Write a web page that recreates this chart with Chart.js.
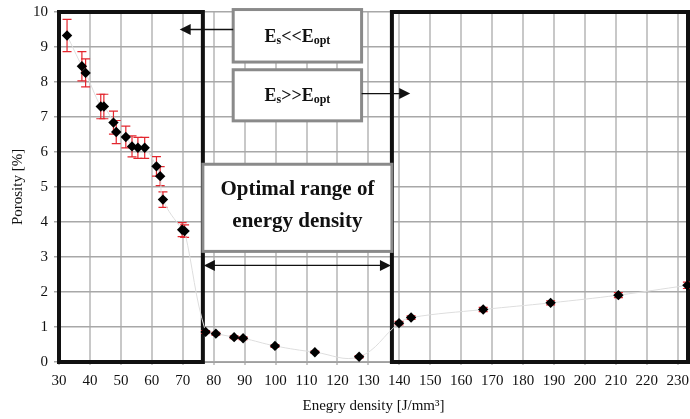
<!DOCTYPE html>
<html><head><meta charset="utf-8">
<script src="https://cdn.jsdelivr.net/npm/chart.js@4"></script>
<style>html,body{margin:0;padding:0;background:#fff}#wrap{width:690px;height:419px}</style>
</head><body><div id="wrap"><canvas id="c" width="690" height="419"></canvas></div>
<script>
// ---- data ----
const energyDensity = [32.6, 37.4, 38.6, 43.5, 44.5, 47.6, 48.5, 51.6, 53.6, 55.5, 57.7, 61.5, 62.7, 63.6, 69.8, 70.6, 77.4, 80.7, 86.6, 89.5, 99.8, 112.7, 127.0, 139.9, 143.8, 167.1, 188.9, 210.8, 233.1];
const porosity      = [9.33, 8.45, 8.26, 7.30, 7.30, 6.84, 6.57, 6.43, 6.16, 6.12, 6.12, 5.59, 5.31, 4.64, 3.78, 3.74, 0.86, 0.81, 0.71, 0.68, 0.46, 0.28, 0.15, 1.11, 1.27, 1.50, 1.69, 1.91, 2.19];
const porosityError = [0.46, 0.42, 0.40, 0.35, 0.35, 0.33, 0.33, 0.31, 0.30, 0.30, 0.30, 0.28, 0.27, 0.22, 0.20, 0.18, 0.04, 0.04, 0.04, 0.04, 0.04, 0.03, 0.03, 0.05, 0.05, 0.06, 0.06, 0.07, 0.09];
const xTickValues = [30, 40, 50, 60, 70, 80, 90, 100, 110, 120, 130, 140, 150, 160, 170, 180, 190, 200, 210, 220, 230];
const yTickValues = [0, 1, 2, 3, 4, 5, 6, 7, 8, 9, 10];
const lowRange = [30, 76.5];
const highRange = [137.6, 233.3];
const optimalRange = [76.5, 137.6];
const xTitle = 'Enegry density [J/mm³]';
const yTitle = 'Porosity [%]';

const FONT = "'Liberation Serif', 'Times New Roman', serif";
const points = energyDensity.map((x, i) => ({x, y: porosity[i]}));

function arrowHead(ctx, x, y, dir) {
  ctx.beginPath();
  ctx.moveTo(x, y);
  ctx.lineTo(x - dir * 11, y - 5.5);
  ctx.lineTo(x - dir * 11, y + 5.5);
  ctx.closePath();
  ctx.fill();
}

function drawSubText(ctx, cx, cy, parts) {
  const big = 'bold 18px ' + FONT, small = 'bold 12px ' + FONT;
  let w = 0;
  parts.forEach(p => { ctx.font = p[1] ? small : big; w += ctx.measureText(p[0]).width; });
  let x = cx - w / 2;
  ctx.textAlign = 'left';
  ctx.textBaseline = 'alphabetic';
  parts.forEach(p => {
    ctx.font = p[1] ? small : big;
    ctx.fillText(p[0], x, cy + 6 + (p[1] ? 2 : 0));
    x += ctx.measureText(p[0]).width;
  });
}

const annot = {
  id: 'annot',
  beforeDatasetsDraw(chart) {
    const {ctx, scales: {x, y}} = chart;
    const X = v => x.getPixelForValue(v), Y = v => y.getPixelForValue(v);
    ctx.save();
    ctx.strokeStyle = '#111';
    ctx.lineWidth = 4;
    [lowRange, highRange].forEach(([a, b]) => {
      ctx.strokeRect(X(a), Y(10), X(b) - X(a), Y(0) - Y(10));
    });
    const boxes = [
      [86.3, 127.8, 10.07, 8.57],
      [86.3, 127.8, 8.35, 6.89],
      [optimalRange[0], optimalRange[1], 5.65, 3.16]
    ];
    ctx.lineWidth = 3;
    ctx.strokeStyle = '#8a8a8a';
    ctx.fillStyle = '#fff';
    boxes.forEach(([a, b, t, bt]) => {
      ctx.fillRect(X(a), Y(t), X(b) - X(a), Y(bt) - Y(t));
      ctx.strokeRect(X(a), Y(t), X(b) - X(a), Y(bt) - Y(t));
    });
    ctx.fillStyle = '#111';
    drawSubText(ctx, (X(86.3) + X(127.8)) / 2, (Y(10.07) + Y(8.57)) / 2, [['E', false], ['s', true], ['<<E', false], ['opt', true]]);
    drawSubText(ctx, (X(86.3) + X(127.8)) / 2, (Y(8.35) + Y(6.89)) / 2, [['E', false], ['s', true], ['>>E', false], ['opt', true]]);
    ctx.font = 'bold 21px ' + FONT;
    ctx.textAlign = 'center';
    ctx.textBaseline = 'middle';
    const cx3 = (X(optimalRange[0]) + X(optimalRange[1])) / 2;
    ctx.fillText('Optimal range of', cx3, Y(4.93));
    ctx.fillText('energy density', cx3, Y(4.02));
    ctx.strokeStyle = '#111';
    ctx.lineWidth = 1.3;
    let ay = Y(9.5);
    ctx.beginPath(); ctx.moveTo(X(86.3), ay); ctx.lineTo(X(69.0) + 8, ay); ctx.stroke();
    arrowHead(ctx, X(69.0), ay, -1);
    ay = Y(7.67);
    ctx.beginPath(); ctx.moveTo(X(127.8), ay); ctx.lineTo(X(143.5) - 8, ay); ctx.stroke();
    arrowHead(ctx, X(143.5), ay, 1);
    ay = Y(2.76);
    const l = X(optimalRange[0]) + 1, r = X(optimalRange[1]) - 1;
    ctx.beginPath(); ctx.moveTo(l + 8, ay); ctx.lineTo(r - 8, ay); ctx.stroke();
    arrowHead(ctx, l, ay, -1);
    arrowHead(ctx, r, ay, 1);
    ctx.strokeStyle = '#e3262e';
    ctx.lineWidth = 1.2;
    energyDensity.forEach((e, i) => {
      const px = X(e), top = Y(porosity[i] + porosityError[i]), bot = Y(porosity[i] - porosityError[i]);
      ctx.beginPath();
      ctx.moveTo(px, top); ctx.lineTo(px, bot);
      ctx.moveTo(px - 4.5, top); ctx.lineTo(px + 4.5, top);
      ctx.moveTo(px - 4.5, bot); ctx.lineTo(px + 4.5, bot);
      ctx.stroke();
    });
    ctx.restore();
  }
};

new Chart(document.getElementById('c'), {
  type: 'scatter',
  data: {
    datasets: [
      {data: points, pointStyle: 'rectRot', pointRadius: 5.2, pointHoverRadius: 5.2,
       backgroundColor: '#000', borderColor: '#000', borderWidth: 0, showLine: false, clip: false},
      {data: points, showLine: true, pointRadius: 0, borderColor: '#dedede', borderWidth: 1, tension: 0.4, fill: false}
    ]
  },
  options: {
    responsive: false,
    animation: false,
    devicePixelRatio: 1,
    layout: {autoPadding: false, padding: {top: 12, right: 2, left: 5, bottom: 0}},
    plugins: {legend: {display: false}, tooltip: {enabled: false}},
    scales: {
      x: {
        type: 'linear', min: 30, max: 233.3,
        afterBuildTicks: s => { s.ticks = xTickValues.map(v => ({value: v})); },
        afterFit: s => { s.height = 57; s.paddingRight = 0; s.paddingLeft = 0; },
        ticks: {font: {family: FONT, size: 15}, color: '#111', maxRotation: 0, autoSkip: false, padding: 7},
        grid: {color: '#c8c8c8', lineWidth: 2, tickLength: 3},
        border: {display: true, color: '#a0a0a0'},
        title: {display: true, text: xTitle, font: {family: FONT, size: 15}, color: '#111', padding: {top: 6}}
      },
      y: {
        min: 0, max: 10,
        afterBuildTicks: s => { s.ticks = yTickValues.map(v => ({value: v})); },
        afterFit: s => { s.width = 54; s.paddingTop = 0; s.paddingBottom = 0; },
        ticks: {font: {family: FONT, size: 15}, color: '#111', padding: 6},
        grid: {color: '#a8a8a8', lineWidth: 1.5, tickLength: 5},
        border: {display: true, color: '#a0a0a0'},
        title: {display: true, text: yTitle, font: {family: FONT, size: 15}, color: '#111', padding: {bottom: 4}}
      }
    }
  },
  plugins: [annot]
});
</script>
</body></html>
